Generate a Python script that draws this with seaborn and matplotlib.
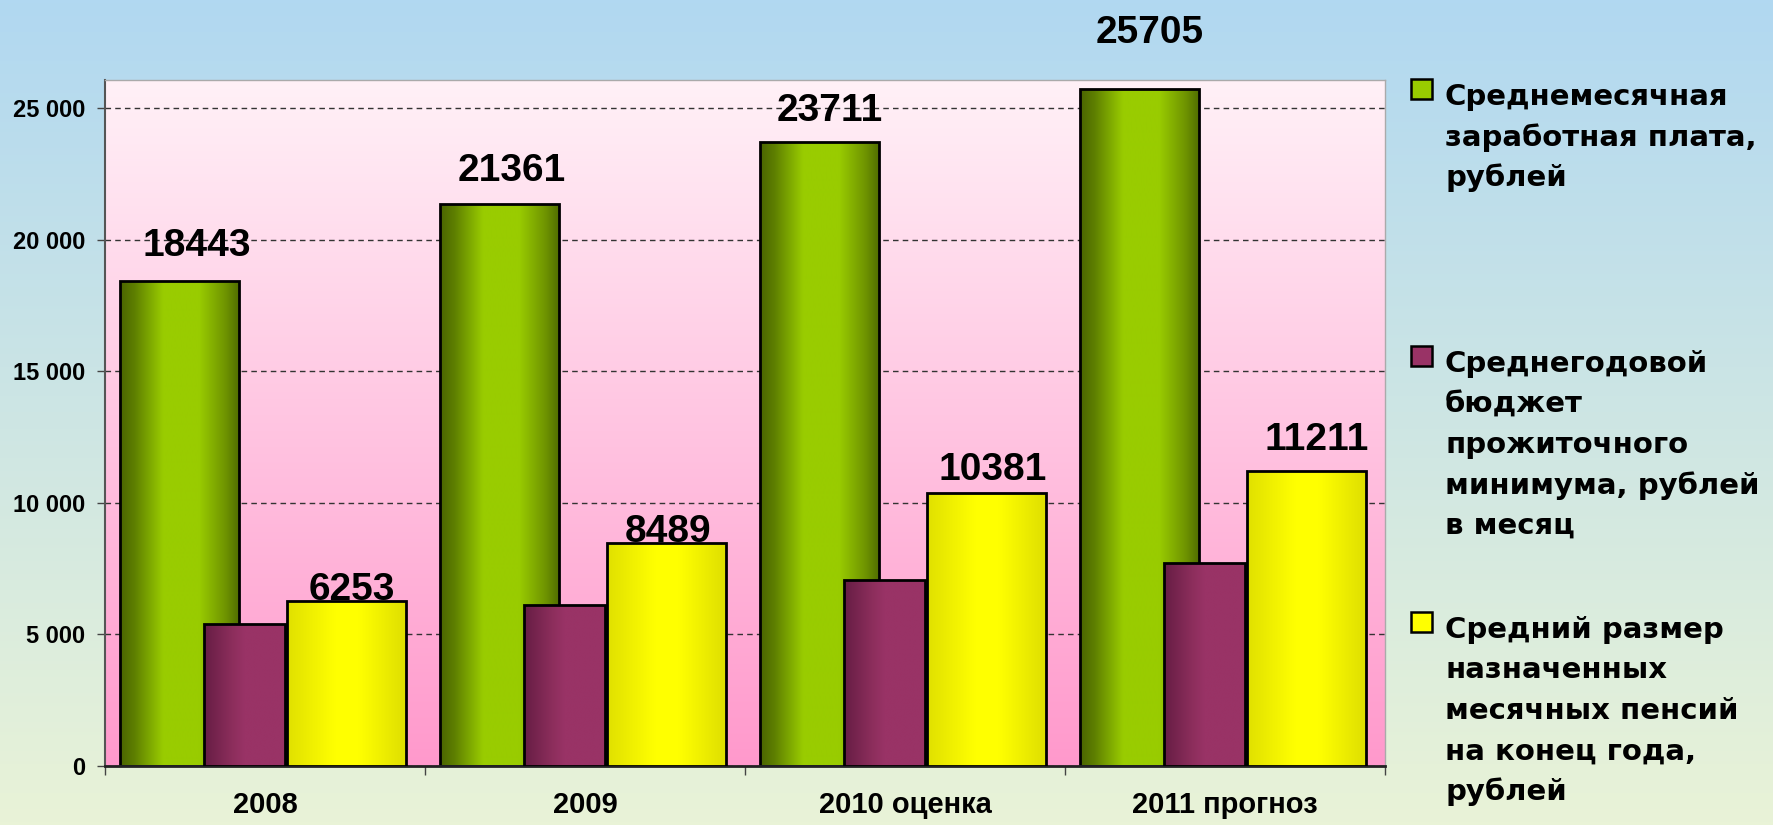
import numpy as np
import pandas as pd
import matplotlib
matplotlib.use("Agg")
import matplotlib.pyplot as plt
import seaborn as sns
from matplotlib.colors import LinearSegmentedColormap, to_rgb
from matplotlib.patches import Rectangle
from matplotlib.ticker import FuncFormatter

# ---------------- data ----------------
years = ["2008", "2009", "2010 оценка", "2011 прогноз"]
salary = [18443, 21361, 23711, 25705]
subsistence = [5400, 6100, 7070, 7710]
pension = [6253, 8489, 10381, 11211]
series_names = [
    "Среднемесячная\nзаработная плата,\nрублей",
    "Среднегодовой\nбюджет\nпрожиточного\nминимума, рублей\nв месяц",
    "Средний размер\nназначенных\nмесячных пенсий\nна конец года,\nрублей",
]
y_ticks = [0, 5000, 10000, 15000, 20000, 25000]

# ---------------- style ----------------
sns.set_theme(style="white")
plt.rcParams['font.family'] = ['Liberation Sans', 'DejaVu Sans']
plt.rcParams['text.color'] = 'black'
plt.rcParams['xtick.color'] = 'black'
plt.rcParams['ytick.color'] = 'black'

W, H = 1773, 825
fig = plt.figure(figsize=(W / 100, H / 100), dpi=100)

# figure background gradient
bg = fig.add_axes([0, 0, 1, 1], zorder=-10)
bg.axis('off')
t = np.linspace(0, 1, 256)[:, None, None]
c_top = np.array(to_rgb('#b1d8f1'))
c_bot = np.array(to_rgb('#e9f3d7'))
bg.imshow(c_top * (1 - t) + c_bot * t, aspect='auto', extent=[0, 1, 0, 1], origin='upper')

ax = fig.add_axes([105 / W, 1 - 766 / H, (1385 - 105) / W, (766 - 80) / H])
ax.patch.set_alpha(0)
ymax = 26064

df = pd.DataFrame({"year": years, "salary": salary,
                   "subsistence": subsistence, "pension": pension})

green_cmap = LinearSegmentedColormap.from_list("g", [
    (0, '#4a6400'), (0.12, '#5e7f00'), (0.36, '#99cc00'),
    (0.66, '#99cc00'), (0.88, '#6f9400'), (1, '#4f6c00')])
maroon_cmap = LinearSegmentedColormap.from_list("m", [
    (0, '#661d44'), (0.35, '#8c2e5c'), (0.5, '#993366'), (1, '#993366')])
yellow_cmap = LinearSegmentedColormap.from_list("y", [
    (0, '#e0e000'), (0.4, '#ffff00'), (0.6, '#ffff00'), (1, '#dede00')])

specs = [
    ("salary", -0.267, 0.372, green_cmap, '#99cc00', 2),
    ("subsistence", -0.064, 0.253, maroon_cmap, '#993366', 3),
    ("pension", 0.255, 0.372, yellow_cmap, '#ffff00', 4),
]
grad_row = np.linspace(0, 1, 256)[None, :]
bar_patches = {}
for col, off, w, cmap, color, z in specs:
    n0 = len(ax.patches)
    sns.barplot(data=df, x="year", y=col, width=w, color=color, errorbar=None,
                ax=ax, edgecolor='black', linewidth=2)
    new = ax.patches[n0:]
    bar_patches[col] = new
    for p in new:
        p.set_x(p.get_x() + off)
        p.set_zorder(z)
        p.set_facecolor('none')
        x0, y0, ww, hh = p.get_x(), p.get_y(), p.get_width(), p.get_height()
        im = ax.imshow(grad_row, cmap=cmap, extent=[x0, x0 + ww, y0, y0 + hh],
                       aspect='auto', zorder=z - 0.05, interpolation='bilinear')
        im.set_clip_path(p)

# plot-area pink gradient
pink_top = np.array(to_rgb('#fff1f7'))
pink_bot = np.array(to_rgb('#ff99cc'))
ax.imshow(pink_top * (1 - t) + pink_bot * t, aspect='auto',
          extent=[-0.5, 3.5, 0, ymax], origin='upper', zorder=0.1)

ax.set_xlim(-0.5, 3.5)
ax.set_ylim(0, ymax)
ax.set_xlabel('')
ax.set_ylabel('')

# grid & ticks
ax.set_axisbelow(True)
ax.yaxis.grid(True, color='#333333', linestyle=(0, (4, 3)), linewidth=1)
ax.xaxis.grid(False)
ax.set_yticks(y_ticks)
ax.yaxis.set_major_formatter(FuncFormatter(lambda v, _: f"{v:,.0f}".replace(",", " ")))
ax.tick_params(axis='y', left=True, length=5.8, width=1, color='#444444',
               pad=8.6, labelsize=17, labelcolor='black', direction='out')
for lab in ax.get_yticklabels():
    lab.set_fontweight('bold')

ax.set_xticks(range(len(years)))
ax.set_xticklabels(years, fontsize=21, fontweight='bold', color='black')
ax.set_xticks([-0.5, 0.5, 1.5, 2.5, 3.5], minor=True)
ax.tick_params(axis='x', which='major', bottom=True, length=0, pad=18,
               labelcolor='black')
ax.tick_params(axis='x', which='minor', bottom=True, length=6.5, width=1,
               color='#444444', direction='out')

ax.spines['left'].set_color('#555555')
ax.spines['left'].set_linewidth(1.5)
ax.spines['bottom'].set_color('#222222')
ax.spines['bottom'].set_linewidth(2)
for s in ('top', 'right'):
    ax.spines[s].set_color('#aaaaaa')
    ax.spines[s].set_linewidth(1)

# value labels (offsets in pixels from bar top centre to label baseline)
green_offsets = [(17, 25), (12, 23), (10, 21), (10, 46)]
yellow_offsets = [(5, 1), (1, 1), (6, 13), (10, 21)]
for p, v, (dx, dy) in zip(bar_patches["salary"], salary, green_offsets):
    ax.annotate(f"{v}", xy=(p.get_x() + p.get_width() / 2, p.get_height()),
                xytext=(dx, dy), textcoords='offset pixels', ha='center',
                va='baseline', fontsize=28, fontweight='bold', zorder=10,
                color='black', annotation_clip=False)
for p, v, (dx, dy) in zip(bar_patches["pension"], pension, yellow_offsets):
    ax.annotate(f"{v}", xy=(p.get_x() + p.get_width() / 2, p.get_height()),
                xytext=(dx, dy), textcoords='offset pixels', ha='center',
                va='baseline', fontsize=28, fontweight='bold', zorder=10,
                color='black', annotation_clip=False)

# legend (manual, to match layout)
legend_colors = ['#99cc00', '#993366', '#ffff00']
legend_baselines = [105, 372, 638]
for name, color, b in zip(series_names, legend_colors, legend_baselines):
    fig.add_artist(Rectangle((1411 / W, 1 - (b - 6) / H), 21 / W, 20 / H,
                             transform=fig.transFigure, facecolor=color,
                             edgecolor='black', linewidth=1.8))
    for k, line in enumerate(name.split("\n")):
        fig.text(1445 / W, 1 - (b + k * 40.5) / H, line, fontsize=21,
                 fontweight='bold', family='DejaVu Sans', va='baseline',
                 ha='left', color='black')

fig.savefig('out.png', dpi=100)
